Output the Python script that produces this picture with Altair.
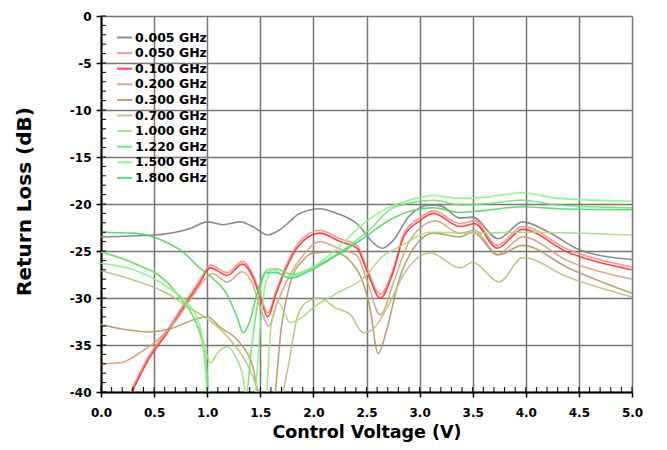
import altair as alt
import pandas as pd

FREQS = ["0.005 GHz", "0.050 GHz", "0.100 GHz", "0.200 GHz", "0.300 GHz",
         "0.700 GHz", "1.000 GHz", "1.220 GHz", "1.500 GHz", "1.800 GHz"]
COLORS = ["#808080", "#ff8a8a", "#ff3030", "#d9a27f", "#b59a62",
          "#b7c47e", "#a6dc7e", "#6ee46e", "#86f486", "#4fd56c"]

X005 = [0, 0.5, 0.84, 1.0, 1.15, 1.31, 1.43, 1.57, 1.69, 1.87, 2.06, 2.22, 2.41, 2.58, 2.65, 2.75, 2.9, 3.1, 3.2, 3.38, 3.5, 3.74, 3.97, 4.2, 4.51, 5.0]
Y005 = [-23.5, -23.3, -22.6, -21.9, -22.2, -21.9, -22.4, -23.3, -22.7, -21.0, -20.5, -21.0, -22.1, -24.3, -24.7, -23.9, -21.3, -20.1, -20.2, -21.5, -21.4, -23.7, -21.9, -22.9, -24.9, -25.9]

X100 = [0.27, 0.45, 0.63, 0.8, 0.93, 1.03, 1.19, 1.33, 1.43, 1.5, 1.57, 1.65, 1.75, 1.85, 2.06, 2.25, 2.41, 2.5, 2.63, 2.75, 2.85, 3.0, 3.13, 3.38, 3.52, 3.73, 3.97, 4.39, 5.0]
Y100 = [-40.5, -36.5, -33.6, -30.6, -28.4, -26.8, -27.6, -26.4, -27.8, -30.0, -32.0, -29.5, -26.7, -24.6, -23.1, -24.0, -24.7, -27.0, -30.0, -27.3, -23.5, -21.8, -21.0, -22.4, -22.1, -24.7, -22.7, -25.1, -27.0]
Y050 = [-40.2, -36.2, -33.3, -30.3, -28.1, -26.5, -27.3, -26.1, -27.5, -29.6, -31.6, -29.2, -26.4, -24.3, -22.8, -23.7, -24.4, -26.7, -29.6, -27.0, -23.2, -21.5, -20.7, -22.1, -21.8, -24.4, -22.4, -24.8, -26.7]

X200 = [0, 0.18, 0.37, 0.55, 0.7, 0.85, 0.95, 1.05, 1.19, 1.33, 1.43, 1.5, 1.58, 1.66, 1.78, 1.9, 2.06, 2.25, 2.41, 2.5, 2.63, 2.75, 2.88, 3.0, 3.15, 3.38, 3.52, 3.73, 3.97, 4.39, 5.0]
Y200 = [-37.0, -36.9, -35.8, -34.3, -32.5, -30.0, -28.4, -27.4, -28.3, -27.2, -28.6, -31.0, -33.0, -30.5, -27.5, -25.5, -24.0, -24.8, -25.5, -28.0, -31.8, -28.5, -24.5, -22.6, -21.8, -23.1, -22.8, -25.4, -23.5, -26.0, -28.0]

X300 = [0, 0.2, 0.45, 0.65, 0.85, 1.0, 1.12, 1.31, 1.43, 1.5, 1.62, 1.7, 1.78, 1.9, 2.0, 2.19, 2.41, 2.53, 2.61, 2.69, 2.8, 2.95, 3.13, 3.38, 3.5, 3.74, 3.97, 4.4, 5.0]
Y300 = [-32.8, -33.3, -33.6, -33.3, -32.4, -32.0, -33.1, -34.8, -37.3, -41, -41, -33, -28.5, -26.0, -25.2, -25.1, -27.0, -30.9, -35.9, -33.4, -28.3, -24.6, -23.1, -23.5, -23.0, -25.4, -24.4, -26.8, -29.5]

X700 = [0, 0.31, 0.62, 0.81, 1.0, 1.19, 1.37, 1.47, 1.52, 1.68, 1.75, 1.85, 1.93, 2.06, 2.2, 2.35, 2.47, 2.57, 2.72, 2.85, 3.1, 3.38, 3.5, 3.75, 3.97, 4.4, 5.0]
Y700 = [-27.1, -28.1, -29.5, -30.9, -32.2, -34.1, -36.9, -39.5, -41, -41, -38, -32, -30.5, -30.0, -31.0, -31.8, -33.7, -33.2, -30.5, -27.5, -25.2, -26.8, -26.2, -28.3, -25.7, -27.8, -29.9]

X1000 = [0, 0.31, 0.62, 0.74, 0.87, 0.96, 1.03, 1.1, 1.19, 1.28, 1.33, 1.38, 1.55, 1.6, 1.67, 1.78, 1.9, 2.0, 2.22, 2.47, 2.66, 2.82, 3.1, 3.5, 4.0, 5.0]
Y1000 = [-25.1, -26.3, -28.3, -29.9, -32.0, -34.5, -36.9, -35.8, -35.2, -36.5, -38, -41, -41, -33, -30.5, -32.6, -32.0, -31.0, -29.5, -27.9, -25.5, -24.5, -23.0, -23.1, -23.0, -23.3]

X1220 = [0, 0.31, 0.62, 0.74, 0.87, 0.95, 1.0, 1.02, 1.36, 1.42, 1.5, 1.57, 1.65, 1.8, 2.0, 2.32, 2.55, 2.72, 2.9, 3.13, 3.38, 3.6, 3.97, 4.3, 5.0]
Y1220 = [-25.1, -26.3, -28.3, -29.9, -32.0, -34.5, -38, -41, -41, -35, -29, -27.0, -26.9, -27.5, -26.7, -24.6, -22.5, -20.6, -19.9, -19.6, -20.1, -20.0, -19.6, -20.1, -20.4]

X1500 = [0, 0.31, 0.62, 0.81, 0.9, 0.96, 1.0, 1.01, 1.44, 1.5, 1.55, 1.62, 1.75, 1.95, 2.2, 2.45, 2.65, 2.9, 3.13, 3.38, 3.6, 3.97, 4.3, 5.0]
Y1500 = [-26.3, -27.0, -28.8, -30.5, -32.0, -34.8, -40, -41, -41, -33, -28.5, -27.0, -27.8, -27.0, -25.0, -22.3, -20.7, -19.6, -19.1, -19.4, -19.3, -18.8, -19.4, -19.7]

X1800 = [0, 0.31, 0.62, 0.77, 0.93, 1.03, 1.19, 1.28, 1.34, 1.4, 1.47, 1.55, 1.65, 1.78, 1.95, 2.2, 2.45, 2.72, 2.9, 3.13, 3.38, 3.6, 3.97, 4.3, 5.0]
Y1800 = [-23.0, -23.1, -24.1, -25.1, -26.8, -27.7, -29.7, -32.0, -33.7, -32.5, -29.5, -27.3, -27.3, -27.9, -27.2, -25.6, -23.8, -21.7, -20.8, -20.4, -20.9, -20.7, -20.3, -20.5, -20.6]

X_TICKS = [0.0, 0.5, 1.0, 1.5, 2.0, 2.5, 3.0, 3.5, 4.0, 4.5, 5.0]
Y_TICKS = [-40, -35, -30, -25, -20, -15, -10, -5, 0]
X_MINOR = [i / 10 for i in range(51)]
Y_MINOR = list(range(-40, 1))

series = [
    (FREQS[0], X005, Y005), (FREQS[1], X100, Y050), (FREQS[2], X100, Y100),
    (FREQS[3], X200, Y200), (FREQS[4], X300, Y300), (FREQS[5], X700, Y700),
    (FREQS[6], X1000, Y1000), (FREQS[7], X1220, Y1220), (FREQS[8], X1500, Y1500),
    (FREQS[9], X1800, Y1800),
]
rows = []
for name, xs, ys in series:
    for x, y in zip(xs, ys):
        rows.append({"freq": name, "v": x, "rl": y})
df = pd.DataFrame(rows)

W, H = 531, 376
FONT = "DejaVu Sans"

x_scale = alt.Scale(domain=[0, 5], nice=False, zero=False)
y_scale = alt.Scale(domain=[-40, 0], nice=False, zero=False)

x_axis = alt.Axis(
    values=X_TICKS, format=".1f", title="Control Voltage (V)",
    grid=True, gridColor="#767676", gridWidth=1.5,
    domainColor="black", domainWidth=2, tickColor="black", tickSize=5, tickWidth=1.5,
    labelFont=FONT, labelFontWeight="bold", labelFontSize=12, labelColor="black",
    labelPadding=10, titleFont=FONT, titleFontWeight="bold", titleFontSize=17.5,
    titleColor="black", titlePadding=5, labelFlush=False)
y_axis = alt.Axis(
    values=Y_TICKS, labelExpr="'' + datum.value", title="Return Loss (dB)",
    grid=True, gridColor="#767676", gridWidth=1.5,
    domainColor="black", domainWidth=2, tickColor="black", tickSize=5, tickWidth=1.5,
    labelFont=FONT, labelFontWeight="bold", labelFontSize=12, labelColor="black",
    labelPadding=5, titleFont=FONT, titleFontWeight="bold", titleFontSize=20,
    titleColor="black", titleX=-67, titleY=185, labelFlush=False)

lines = alt.Chart(df).mark_line(interpolate="monotone", clip=True, strokeWidth=1.6, opacity=0.9).encode(
    x=alt.X("v:Q", scale=x_scale, axis=x_axis, title="Control Voltage (V)"),
    y=alt.Y("rl:Q", scale=y_scale, axis=y_axis, title="Return Loss (dB)"),
    color=alt.Color("freq:N", scale=alt.Scale(domain=FREQS, range=COLORS),
                    legend=alt.Legend(title=None, orient="none", legendX=15, legendY=13,
                                      symbolType="stroke", symbolSize=225, symbolStrokeWidth=2,
                                      labelFont=FONT, labelFontWeight="bold", labelFontSize=12.5,
                                      labelColor="black", rowPadding=0.6, labelOffset=2, padding=0)),
)

xminor = alt.Chart(pd.DataFrame({"v": X_MINOR})).mark_rule(color="black", strokeWidth=1).encode(
    x=alt.X("v:Q", scale=x_scale, axis=x_axis, title="Control Voltage (V)"),
    y=alt.value(H - 5), y2=alt.value(H))
yminor = alt.Chart(pd.DataFrame({"rl": Y_MINOR})).mark_rule(color="black", strokeWidth=1).encode(
    y=alt.Y("rl:Q", scale=y_scale, axis=y_axis, title="Return Loss (dB)"),
    x=alt.value(0), x2=alt.value(5))

chart = alt.layer(lines, xminor, yminor).properties(
    width=W, height=H,
    autosize=alt.AutoSizeParams(type="none"),
    padding={"left": 93, "top": 8, "right": 27, "bottom": 50},
).configure_view(stroke=None)

chart.save("out.html", embed_options={"renderer": "svg", "actions": False})
